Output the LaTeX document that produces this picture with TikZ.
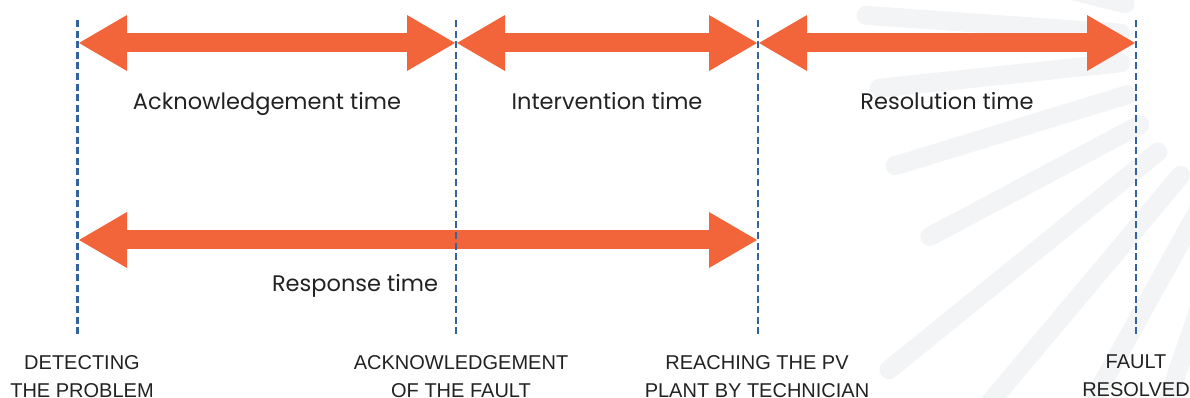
\documentclass[tikz,border=0pt]{standalone}
\usepackage{fontspec}
\setmainfont{Liberation Sans}
\newfontfamily\labelfont{Poppins}
\usetikzlibrary{arrows.meta}
\definecolor{arrowc}{RGB}{242,101,58}
\definecolor{dashc}{RGB}{52,98,158}
\definecolor{rayc}{RGB}{243,244,246}
\definecolor{textc}{RGB}{34,34,34}
\begin{document}
\begin{tikzpicture}[x=1pt,y=1pt,
  ray/.style={rayc, line width=19pt, line cap=round},
  guide/.style={dashc, line width=2.3pt, dash pattern=on 7pt off 3.6pt},
  timespan/.style={arrowc, line width=19pt,
    {Triangle[length=48pt 0 0,width=56pt 0 0,line width=0pt 0 0]}-{Triangle[length=48pt 0 0,width=56pt 0 0,line width=0pt 0 0]}},
  spanlabel/.style={font=\labelfont\fontsize{22.5}{27}\selectfont, text=textc, anchor=base, inner sep=0pt},
  event/.style={font=\fontsize{20}{28}\selectfont, text=textc, align=center, anchor=north, inner sep=0pt},
]
\useasboundingbox (0,0) rectangle (1190,398);
% background sunburst
\begin{scope}
\clip (0,0) rectangle (1190,398);
\foreach \a/\r in {166/700, 176/425, 186/413, 197/413, 208/408, 219/516, 230/700, 241/700, 251/700}
  \draw[ray] (1290,353) ++(\a:170) -- ++(\a:\r-170);
\end{scope}
% guide positions
\coordinate (t1) at (77.5,378); \coordinate (b1) at (77.5,60);
\coordinate (t2) at (456,378);  \coordinate (b2) at (456,60);
\coordinate (t3) at (758,378);  \coordinate (b3) at (758,60);
\coordinate (t4) at (1136,378); \coordinate (b4) at (1136,60);
% arrow end points
\coordinate (a1) at (79,355);   \coordinate (a2l) at (455,355);
\coordinate (a2r) at (457,355); \coordinate (a3l) at (757,355);
\coordinate (a3r) at (759,355); \coordinate (a4) at (1135,355);
\coordinate (r1) at (79,158);   \coordinate (r3) at (757,158);
% spans
\draw[timespan] (a1) -- (a2l);
\draw[timespan] (a2r) -- (a3l);
\draw[timespan] (a3r) -- (a4);
\draw[timespan] (r1) -- (r3);
% span labels
\node[spanlabel] (lack) at (267,288) {Acknowledgement time};
\node[spanlabel] (lint) at (607,288) {Intervention time};
\node[spanlabel] (lres) at (947,288) {Resolution time};
\node[spanlabel] (lrsp) at (355,106) {Response time};
% guides
\draw[guide] (t1) -- (b1);
\draw[guide] (t2) -- (b2);
\draw[guide] (t3) -- (b3);
\draw[guide] (t4) -- (b4);
% events
\node[event] (e1) at (82,43) {DETECTING\\THE PROBLEM};
\node[event] (e2) at (461,43) {ACKNOWLEDGEMENT\\OF THE FAULT};
\node[event] (e3) at (757,43) {REACHING THE PV\\PLANT BY TECHNICIAN};
\node[event] (e4) at (1136,43) {FAULT\\RESOLVED};
\end{tikzpicture}
\end{document}
